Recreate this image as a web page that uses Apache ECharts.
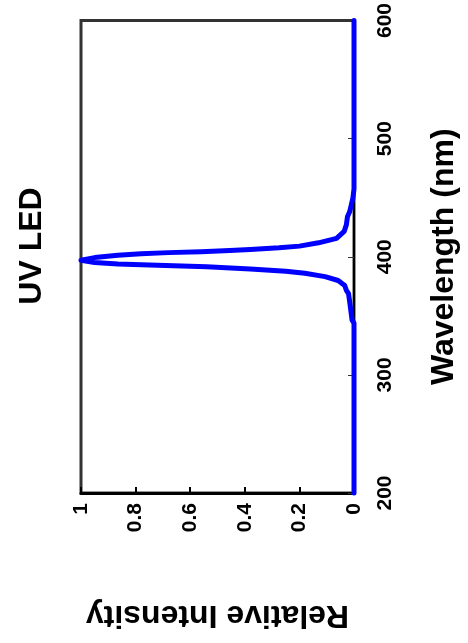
<!DOCTYPE html>
<html>
<head>
<meta charset="utf-8">
<script src="https://cdn.jsdelivr.net/npm/echarts@6/dist/echarts.min.js"></script>
<style>
html,body{margin:0;padding:0;background:#fff;}
#chart{width:468px;height:643px;}
</style>
</head>
<body>
<div id="chart"></div>
<script>
// Data (chart is drawn rotated: wavelength runs bottom->top, intensity right->left)
const wavelength = [200, 343.9, 346.4, 360.5, 368.8, 371.6, 375.7, 379.9, 383.2, 386.0, 387.7, 389.6, 391.5, 392.9, 393.8, 395.2, 397.1, 399.3, 401.2, 402.6, 403.5, 404.3, 405.2, 406.2, 407.6, 409.0, 411.8, 415.6, 421.5, 427.0, 433.9, 438.1, 443.7, 449.7, 457.5, 600];
const intensity  = [0, 0, 0.007, 0.015, 0.02, 0.028, 0.034, 0.058, 0.106, 0.18, 0.25, 0.38, 0.54, 0.72, 0.865, 0.95, 1.0, 0.95, 0.865, 0.78, 0.68, 0.56, 0.455, 0.38, 0.275, 0.2, 0.13, 0.064, 0.036, 0.028, 0.024, 0.016, 0.01, 0.004, 0, 0];
const titleText = 'UV LED';
const xName = 'Wavelength (nm)';
const yName = 'Relative Intensity';

const FONT = '"Liberation Sans", Arial, sans-serif';
const pts = wavelength.map((w, i) => [intensity[i], w]);

const chart = echarts.init(document.getElementById('chart'), null, {renderer: 'canvas'});
chart.setOption({
  animation: false,
  backgroundColor: '#fff',
  grid: {left: 81, right: 111, top: 12, bottom: 150, show: true, borderColor: '#333', borderWidth: 3, backgroundColor: 'transparent'},
  graphic: [{
    type: 'text', x: 32, y: 246, rotation: Math.PI / 2,
    style: {text: titleText, font: 'bold 32px ' + FONT, fill: '#000', align: 'center', verticalAlign: 'middle'}
  }],
  xAxis: {
    type: 'value', min: 0, max: 1, interval: 0.2, inverse: true, position: 'bottom',
    axisLine: {show: true, lineStyle: {color: '#000', width: 3}},
    axisTick: {show: true, inside: true, length: 6, lineStyle: {color: '#000', width: 2}},
    axisLabel: {rotate: 90, margin: 10, color: '#000', fontSize: 21, fontWeight: 'bold', fontFamily: FONT},
    splitLine: {show: false},
    name: yName, nameLocation: 'middle', nameRotate: 180, nameGap: 106,
    nameTextStyle: {color: '#000', fontSize: 32, fontWeight: 'bold', fontFamily: FONT}
  },
  yAxis: {
    type: 'value', min: 200, max: 600, interval: 100, position: 'right',
    axisLine: {show: true, lineStyle: {color: '#000', width: 2}},
    axisTick: {show: true, inside: true, length: 6, lineStyle: {color: '#333', width: 1}},
    axisLabel: {rotate: 90, margin: 21, color: '#000', fontSize: 21, fontWeight: 'bold', fontFamily: FONT},
    splitLine: {show: false},
    name: xName, nameLocation: 'middle', nameRotate: 90, nameGap: 74,
    nameTextStyle: {color: '#000', fontSize: 32, fontWeight: 'bold', fontFamily: FONT}
  },
  series: [{
    type: 'line', data: pts, symbol: 'none', smooth: false, clip: false,
    lineStyle: {color: '#0000ff', width: 5, join: 'round', cap: 'round'}
  }]
});
</script>
</body>
</html>
